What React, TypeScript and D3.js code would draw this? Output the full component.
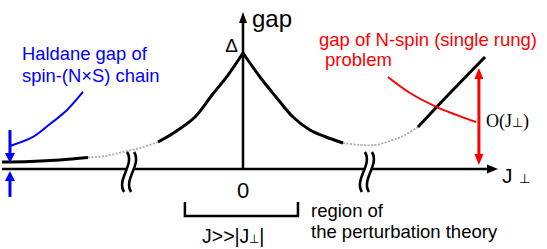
import React from 'react';
import * as d3 from 'd3';

// schematic units: J_perp (0 at the gap axis), gap (Delta = 1)
const leftFarJ = [-1.004, -0.8875, -0.7625, -0.646];
const leftFarGap = [0.06, 0.065, 0.078, 0.099];
const leftDashJ = [-0.646, -0.575, -0.5, -0.429, -0.354];
const leftDashGap = [0.099, 0.112, 0.147, 0.181, 0.233];
const leftNearJ = [-0.354, -0.283, -0.2, -0.129, -0.0625, 0];
const leftNearGap = [0.233, 0.319, 0.448, 0.638, 0.81, 1];
const rightNearJ = [0, 0.0708, 0.1375, 0.2083, 0.279, 0.346, 0.417];
const rightNearGap = [1, 0.793, 0.621, 0.448, 0.336, 0.276, 0.224];
const rightDashJ = [0.417, 0.4875, 0.55, 0.6125, 0.675, 0.729];
const rightDashGap = [0.224, 0.207, 0.207, 0.241, 0.293, 0.362];
const rightFarJ = [0.729, 0.8625, 1.0083];
const rightFarGap = [0.362, 0.655, 0.966];

const breakJ = [-0.483, 0.508];

const blueCurveJ = [-0.667, -0.733, -0.804, -0.875, -0.971];
const blueCurveGap = [0.664, 0.509, 0.388, 0.276, 0.198];
const redCurveJ = [0.604, 0.696, 0.808, 0.971];
const redCurveGap = [0.793, 0.655, 0.534, 0.405];

const bracketJ = [-0.242, 0.229];
const gapArrowJ = 0.983;
const gapArrowEnds = [0.034, 0.871];
const haldaneJ = -0.971;

const zip = (xs: number[], ys: number[]) => xs.map((x, i) => [x, ys[i]] as [number, number]);

function head(tx: number, ty: number, dx: number, dy: number, len: number, hw: number) {
  const bx = tx - dx * len, by = ty - dy * len;
  const px = -dy * hw, py = dx * hw;
  return `M${tx},${ty}L${bx + px},${by + py}L${bx - px},${by - py}Z`;
}

export default function App() {
  const width = 547, height = 249;
  const x = d3.scaleLinear().domain([-1, 1]).range([3, 483]);
  const y = d3.scaleLinear().domain([0, 1]).range([169, 53]);

  const line = d3.line<[number, number]>()
    .x(d => x(d[0]))
    .y(d => y(d[1]))
    .curve(d3.curveCatmullRom);

  const x0 = x(0), y0 = y(0);
  const sans = '"Liberation Sans", Arial, sans-serif';
  const serif = '"Liberation Serif", "Times New Roman", serif';

  const breakMark = (cx: number) => {
    const top = 152, bot = 192;
    const s = (o: number) => `M${cx + o + 2},${top}C${cx + o + 10},${top + 13} ${cx + o - 9},${bot - 13} ${cx + o - 1},${bot}`;
    const a = -2, b = 5;
    const fill = `M${cx + a + 2},${top}C${cx + a + 10},${top + 13} ${cx + a - 9},${bot - 13} ${cx + a - 1},${bot}` +
      `L${cx + b - 1},${bot}C${cx + b - 9},${bot - 13} ${cx + b + 10},${top + 13} ${cx + b + 2},${top}Z`;
    return (
      <g key={cx}>
        <path d={fill} fill="#fff" />
        <path d={s(a)} fill="none" stroke="#000" strokeWidth={2.6} />
        <path d={s(b)} fill="none" stroke="#000" strokeWidth={2.6} />
      </g>
    );
  };

  const ax = x(gapArrowJ);
  const hx = x(haldaneJ);

  return (
    <svg width={width} height={height} style={{ position: 'absolute', left: 0, top: 0, background: '#fff' }}>
      {/* axes */}
      <line x1={2} x2={489} y1={y0} y2={y0} stroke="#000" strokeWidth={2.5} />
      <path d={head(498, y0, 1, 0, 11, 4.5)} fill="#000" />
      <line x1={x0} x2={x0} y1={y0} y2={22} stroke="#000" strokeWidth={2.5} />
      <path d={head(x0, 12, 0, -1, 11, 4)} fill="#000" />

      {/* gap curve */}
      <path d={line(zip(leftFarJ, leftFarGap)) || ''} fill="none" stroke="#000" strokeWidth={3} />
      <path d={line(zip(leftDashJ, leftDashGap)) || ''} fill="none" stroke="#aaa" strokeWidth={1.8} strokeDasharray="2 1.5" />
      <path d={line(zip(leftNearJ, leftNearGap)) || ''} fill="none" stroke="#000" strokeWidth={3} />
      <path d={line(zip(rightNearJ, rightNearGap)) || ''} fill="none" stroke="#000" strokeWidth={3} />
      <path d={line(zip(rightDashJ, rightDashGap)) || ''} fill="none" stroke="#aaa" strokeWidth={1.8} strokeDasharray="2 1.5" />
      <path d={line(zip(rightFarJ, rightFarGap)) || ''} fill="none" stroke="#000" strokeWidth={3} />

      {breakJ.map(j => breakMark(x(j)))}

      {/* labels on axes */}
      <text x={252} y={27} fontFamily={sans} fontSize={24}>gap</text>
      <text x={238} y={52} fontFamily={sans} fontSize={19} textAnchor="end">Δ</text>
      <text x={x0} y={198} fontFamily={sans} fontSize={22} textAnchor="middle">0</text>
      <text x={502} y={183} fontFamily={sans} fontSize={21}>J<tspan dx={6} fontSize={13}>⊥</tspan></text>

      {/* perturbation region bracket */}
      <path d={`M${x(bracketJ[0])},202V216H${x(bracketJ[1])}V202`} fill="none" stroke="#000" strokeWidth={2.5} />
      <text x={202} y={243} fontFamily={sans} fontSize={19.5}>J&gt;&gt;|J<tspan fontSize={12}>⊥</tspan>|</text>
      <text x={311} y={217} fontFamily={sans} fontSize={18.5}>region of</text>
      <text x={311} y={238} fontFamily={sans} fontSize={18.5}>the perturbation theory</text>

      {/* Haldane gap annotation */}
      <text x={22} y={60} fontFamily={sans} fontSize={18.4} fill="#0000ff">Haldane gap of</text>
      <text x={22} y={82} fontFamily={sans} fontSize={18.4} fill="#0000ff">spin-(N×S) chain</text>
      <path d={line(zip(blueCurveJ, blueCurveGap)) || ''} fill="none" stroke="#0000ff" strokeWidth={2} />
      <line x1={hx} x2={hx} y1={y(0.336)} y2={y(0.06) - 9} stroke="#0000ff" strokeWidth={3} />
      <path d={head(hx, y(0.06) + 1, 0, 1, 10, 5)} fill="#0000ff" />
      <line x1={hx} x2={hx} y1={y(-0.241)} y2={y0 + 10} stroke="#0000ff" strokeWidth={3} />
      <path d={head(hx, y0 + 2, 0, -1, 10, 5)} fill="#0000ff" />

      {/* single rung gap annotation */}
      <text x={319} y={46} fontFamily={sans} fontSize={18.5} fill="#ff0000">gap of N-spin (single rung)</text>
      <text x={325} y={66} fontFamily={sans} fontSize={18.5} fill="#ff0000">problem</text>
      <path d={line(zip(redCurveJ, redCurveGap)) || ''} fill="none" stroke="#ff0000" strokeWidth={2} />
      <line x1={ax} x2={ax} y1={y(gapArrowEnds[0]) - 9} y2={y(gapArrowEnds[1]) + 9} stroke="#ff0000" strokeWidth={3} />
      <path d={head(ax, y(gapArrowEnds[0]), 0, 1, 11, 4.5)} fill="#ff0000" />
      <path d={head(ax, y(gapArrowEnds[1]), 0, -1, 11, 4.5)} fill="#ff0000" />
      <text x={486} y={127} fontFamily={serif} fontSize={18}>O(J<tspan fontSize={13}>⊥</tspan>)</text>
    </svg>
  );
}
